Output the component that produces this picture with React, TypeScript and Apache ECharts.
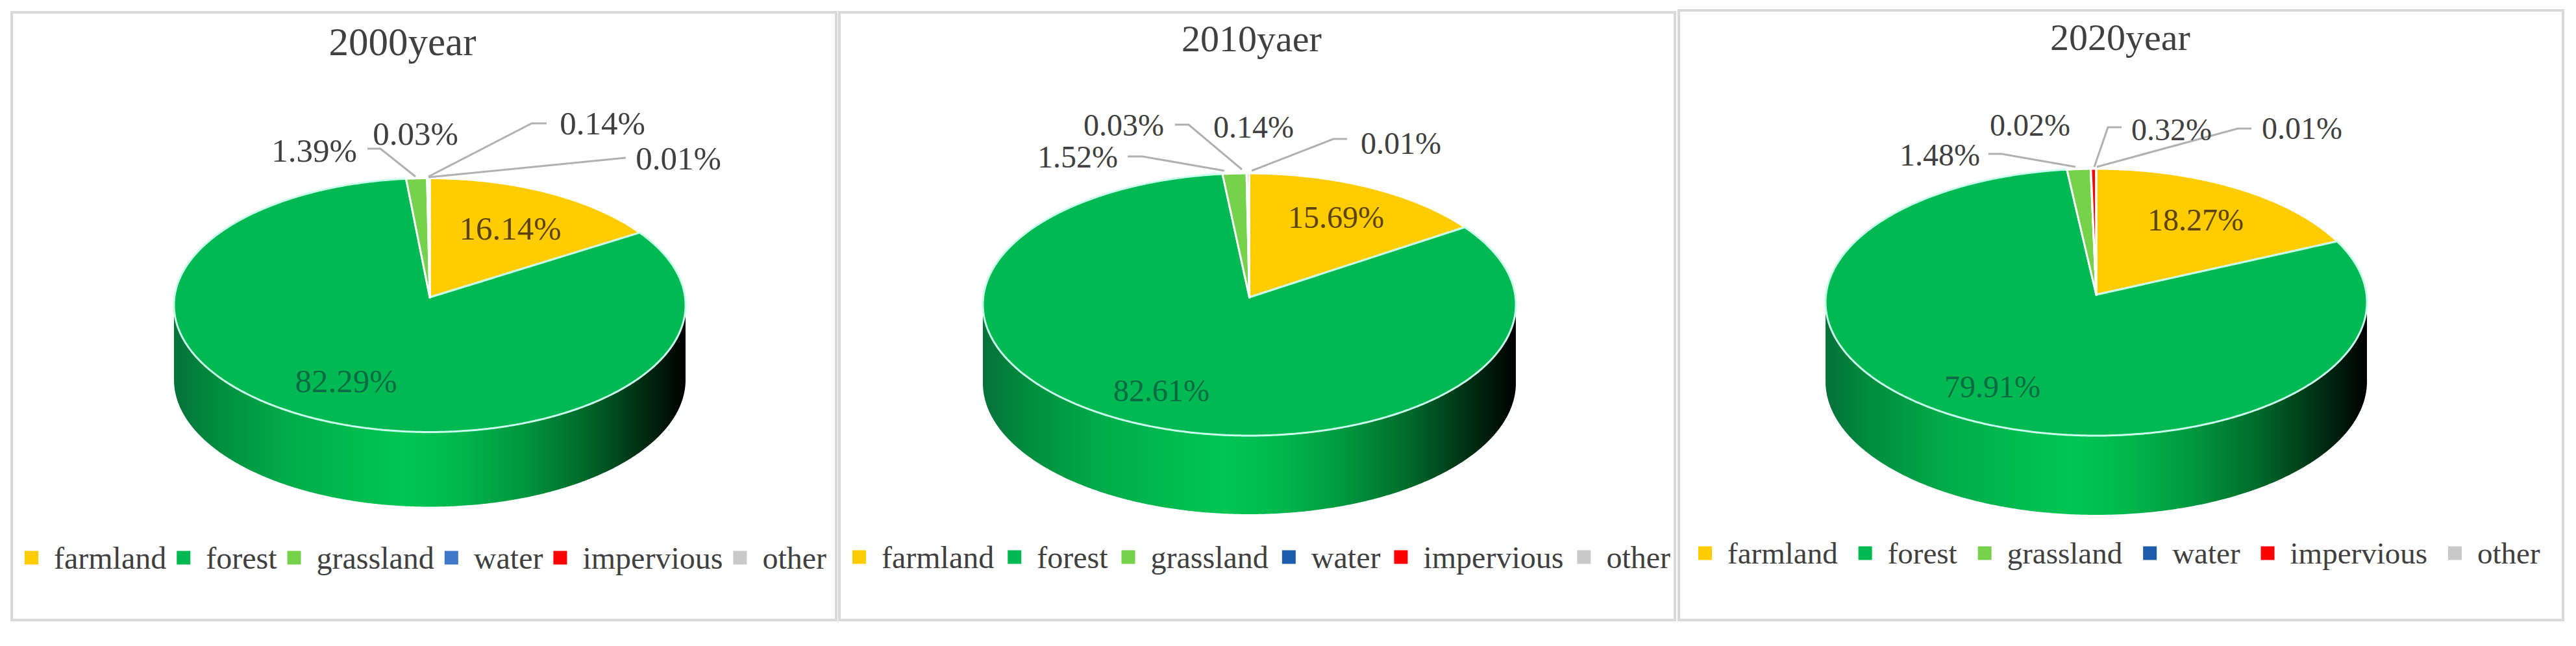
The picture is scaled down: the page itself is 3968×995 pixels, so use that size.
import React, { useEffect, useRef } from "react";
import * as echarts from "echarts";

const categories = ["farmland", "forest", "grassland", "water", "impervious", "other"];
const titles = ["2000year", "2010yaer", "2020year"];
const values2000 = [16.14, 82.29, 1.39, 0.03, 0.14, 0.01];
const values2010 = [15.69, 82.61, 1.52, 0.03, 0.14, 0.01];
const values2020 = [18.27, 79.91, 1.48, 0.02, 0.32, 0.01];
const yearValues = [values2000, values2010, values2020];
const colors = ["#FFCC00", "#00B952", "#77D24B", "#3F78C8", "#FF0000", "#C9C9C9"];
const waterColors = ["#3F78C8", "#1B5CAB", "#1B5CAB"];

const FONT = '"Liberation Serif", "Times New Roman", serif';
const INK = "#404040";

type Lbl = { x: number; y: number; fill?: string; leader?: number[][] };
const panels: any[] = [
  {
    box: [18, 19, 1288, 955], title: [620, 67], titleSize: 61, labelSize: 51,
    cx: 662, cy: 470, rx: 394, ry: 195.5, apexY: 458, depth: 115,
    legend: { left: 38, y: 861, gap: 16, size: 48 },
    labels: [
      { x: 786, y: 352, fill: "#5C4300" },
      { x: 533, y: 587, fill: "#0A6B42" },
      { x: 484, y: 232, leader: [[566, 229], [586, 229], [640, 272]] },
      { x: 640, y: 206 },
      { x: 928, y: 190, leader: [[842, 190], [819, 190], [660, 272]] },
      { x: 1045, y: 244, leader: [[964, 243], [660, 273]] },
    ] as Lbl[],
  },
  {
    box: [1293, 19, 2580, 955], title: [1928, 62], titleSize: 58, labelSize: 48,
    cx: 1924.5, cy: 469, rx: 410.5, ry: 202, apexY: 458, depth: 121,
    legend: { left: 1313, y: 860, gap: 21, size: 48 },
    labels: [
      { x: 2058, y: 334, fill: "#5C4300" },
      { x: 1789, y: 601, fill: "#0A6B42" },
      { x: 1660, y: 241, leader: [[1737, 241], [1760, 241], [1886, 263]] },
      { x: 1731, y: 192, leader: [[1810, 192], [1831, 192], [1913, 261]] },
      { x: 1931, y: 195 },
      { x: 2158, y: 220, leader: [[2075, 214], [2054, 214], [1928, 263]] },
    ] as Lbl[],
  },
  {
    box: [2586, 16, 3948, 955], title: [3266, 60], titleSize: 58, labelSize: 48,
    cx: 3229, cy: 465.5, rx: 417, ry: 205.5, apexY: 454, depth: 122,
    legend: { left: 2616, y: 854, gap: 32, size: 47 },
    labels: [
      { x: 3382, y: 338, fill: "#5C4300" },
      { x: 3069, y: 595, fill: "#0A6B42" },
      { x: 2988, y: 238, leader: [[3063, 237], [3083, 237], [3197, 257]] },
      { x: 3127, y: 192 },
      { x: 3345, y: 199, leader: [[3268, 196], [3247, 196], [3226, 257]] },
      { x: 3546, y: 197, leader: [[3468, 198], [3447, 198], [3230, 257]] },
    ] as Lbl[],
  },
];

const sideStops = [
  { offset: 0, color: "#06713A" },
  { offset: 0.08, color: "#008C3D" },
  { offset: 0.23, color: "#00AD4A" },
  { offset: 0.45, color: "#00C655" },
  { offset: 0.55, color: "#00B94E" },
  { offset: 0.68, color: "#00973E" },
  { offset: 0.8, color: "#006A2B" },
  { offset: 0.93, color: "#002510" },
  { offset: 1, color: "#000000" },
];

// Perspective of the tilted disc: the pie's centre (apex) sits above the rim
// ellipse's centre, so rim points are moved by the disc map that sends 0 to e.
function rimPoints(p: any, a0: number, a1: number, dy = 0): number[][] {
  const e = (p.cy - p.apexY) / p.ry;
  const n = Math.max(1, Math.ceil((a1 - a0) / (Math.PI / 360)));
  const pts: number[][] = [];
  for (let i = 0; i <= n; i++) {
    const a = a0 + ((a1 - a0) * i) / n;
    const sx = Math.sin(a);
    const cy = Math.cos(a);
    const d = 1 + e * cy;
    const mx = (sx * Math.sqrt(1 - e * e)) / d;
    const my = (cy + e) / d;
    pts.push([p.cx + p.rx * mx, p.cy + dy - p.ry * my]);
  }
  return pts;
}

function makeRender(panelIdx: number, catIdx: number) {
  return (_params: any, api: any) => {
    const p = panels[panelIdx];
    const vals = yearValues[panelIdx];
    const total = vals.reduce((s, v) => s + v, 0);
    const before = vals.slice(0, catIdx).reduce((s, v) => s + v, 0);
    const v = api.value(0);
    const a0 = (before / total) * Math.PI * 2;
    const a1 = ((before + v) / total) * Math.PI * 2;
    const children: any[] = [];

    // visible wall: the part of the slice on the front half of the rim
    const e = (p.cy - p.apexY) / p.ry;
    const frontStart = Math.acos(-e);
    const f0 = Math.max(a0, frontStart);
    const f1 = Math.min(a1, Math.PI * 2 - frontStart);
    if (f1 > f0) {
      const upper = rimPoints(p, f0, f1);
      const lower = rimPoints(p, f0, f1, p.depth).reverse();
      children.push({
        type: "polygon",
        shape: { points: upper.concat(lower) },
        style: {
          fill: {
            type: "linear", global: true,
            x: p.cx - p.rx, y: 0, x2: p.cx + p.rx, y2: 0,
            colorStops: sideStops,
          },
          stroke: null,
        },
      });
    }

    // top face
    children.push({
      type: "polygon",
      shape: { points: [[p.cx, p.apexY], ...rimPoints(p, a0, a1)] },
      style: {
        fill: colors[catIdx],
        stroke: catIdx === 1 ? "#C8FFEA" : "#FFFFFF",
        lineWidth: 3,
        lineJoin: "round",
      },
    });

    const lbl: Lbl = p.labels[catIdx];
    if (lbl.leader) {
      children.push({
        type: "polyline",
        shape: { points: lbl.leader },
        style: { stroke: "#B0B0B0", lineWidth: 3, fill: null },
      });
    }
    children.push({
      type: "text",
      x: lbl.x,
      y: lbl.y,
      z2: 10,
      style: {
        text: v.toFixed(2) + "%",
        fill: lbl.fill || INK,
        fontFamily: FONT,
        fontSize: p.labelSize,
        align: "center",
        verticalAlign: "middle",
      },
    });
    return { type: "group", children };
  };
}

function buildOption() {
  const series: any[] = [];
  yearValues.forEach((vals, pi) => {
    vals.forEach((v, ci) => {
      series.push({
        type: "custom",
        name: categories[ci],
        coordinateSystem: "none",
        silent: true,
        data: [[v]],
        itemStyle: { color: colors[ci] },
        renderItem: makeRender(pi, ci),
      });
    });
  });
  return {
    animation: false,
    backgroundColor: "#FFFFFF",
    title: panels.map((p, i) => ({
      text: titles[i],
      left: p.title[0],
      top: p.title[1] - p.titleSize / 2 - 3,
      textAlign: "center",
      padding: 0,
      textStyle: { color: INK, fontFamily: FONT, fontSize: p.titleSize, fontWeight: "normal" },
    })),
    legend: panels.map((p, i) => ({
      left: p.legend.left,
      top: p.legend.y - p.legend.size * 0.5 - 2,
      orient: "horizontal",
      padding: 0,
      itemWidth: 21,
      itemHeight: 21,
      itemGap: p.legend.gap,
      icon: "rect",
      selectedMode: false,
      textStyle: {
        color: INK,
        fontFamily: FONT,
        fontSize: p.legend.size,
        padding: [0, 0, 0, 19],
      },
      data: categories.map((c, ci) => ({
        name: c,
        itemStyle: { color: ci === 3 ? waterColors[i] : colors[ci] },
      })),
    })),
    graphic: panels.map((p) => ({
      type: "rect",
      silent: true,
      z: -1,
      shape: { x: p.box[0], y: p.box[1], width: p.box[2] - p.box[0], height: p.box[3] - p.box[1] },
      style: { fill: "#FFFFFF", stroke: "#D9D9D9", lineWidth: 4 },
    })),
    series,
  };
}

export default function App() {
  const ref = useRef<HTMLDivElement>(null);
  useEffect(() => {
    const chart = echarts.init(ref.current!, undefined, { renderer: "svg" });
    chart.setOption(buildOption() as any);
    return () => chart.dispose();
  }, []);
  return <div ref={ref} style={{ position: "fixed", left: 0, top: 0, width: 3968, height: 995 }} />;
}
